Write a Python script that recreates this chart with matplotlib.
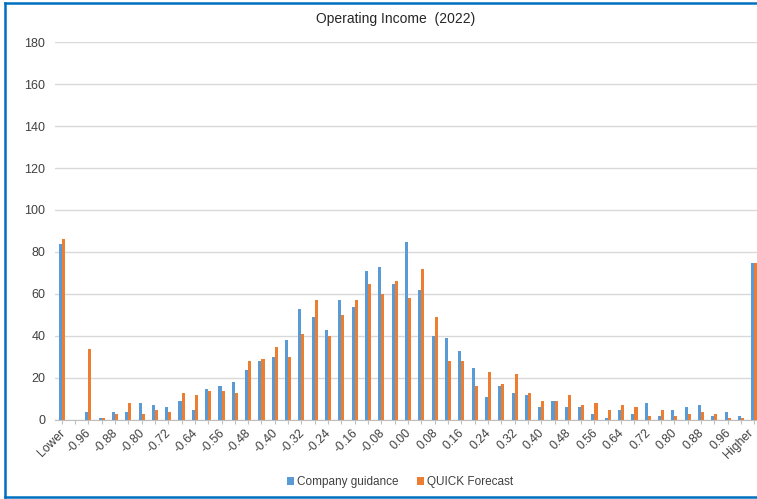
import numpy as np
import matplotlib
matplotlib.use("Agg")
import matplotlib.pyplot as plt
import matplotlib.transforms as mtransforms
from matplotlib.lines import Line2D

plt.rcParams['font.family'] = ['Liberation Sans', 'DejaVu Sans']

# bins: Lower, -1.00 ... 1.00 step 0.04, Higher
bins = ['Lower'] + ['%.2f' % v for v in np.round(np.arange(-1.00, 1.0001, 0.04), 2)] + ['Higher']
company = [84, 0, 4, 1, 4, 4, 8, 7, 6, 9, 5, 15, 16, 18, 24, 28, 30, 38, 53, 49, 43, 57, 54,
           71, 73, 65, 85, 62, 40, 39, 33, 25, 11, 16, 13, 12, 6, 9, 6, 6, 3, 1, 5, 3, 8, 2,
           5, 6, 7, 2, 4, 2, 75]
quick = [86, 0, 34, 1, 3, 8, 3, 5, 4, 13, 12, 14, 14, 13, 28, 29, 35, 30, 41, 57, 40, 50, 57,
         65, 60, 66, 58, 72, 49, 28, 28, 16, 23, 17, 22, 13, 9, 9, 12, 7, 8, 5, 7, 6, 2, 5,
         2, 3, 4, 3, 1, 1, 75]
labels = [b if i % 2 == 0 else '' for i, b in enumerate(bins)]

W, H = 757, 499
fig = plt.figure(figsize=(W / 100, H / 100), dpi=100)
ax = fig.add_axes([55 / W, (H - 420) / H, 706 / W, 378 / H])

x = np.arange(len(bins))
bw = 0.23
ax.bar(x - bw / 2, company, bw, color='#5B9BD5', label='Company guidance', zorder=3)
ax.bar(x + bw / 2, quick, bw, color='#ED7D31', label='QUICK Forecast', zorder=3)

ax.set_xlim(-0.5, len(bins) - 0.5)
ax.set_ylim(0, 180)
ax.set_yticks(range(0, 181, 20))
ax.yaxis.grid(True, color='#D9D9D9', lw=1)
ax.set_axisbelow(True)
for s in ['top', 'right', 'left']:
    ax.spines[s].set_visible(False)
ax.spines['bottom'].set_color('#BFBFBF')
ax.tick_params(axis='y', length=0, labelsize=9, colors='#404040', pad=7)
ax.tick_params(axis='x', length=3, color='#BFBFBF', labelsize=8.8, labelcolor='#404040', pad=2)
ax.set_xticks(x)
ax.set_xticklabels(labels, rotation=45, ha='right', rotation_mode='anchor')
xt = ax.get_xticklabels()
for i, t in enumerate(xt):
    dx = -7 if i == len(xt) - 1 else -3
    t.set_transform(t.get_transform() + mtransforms.ScaledTranslation(dx / 100, 0, fig.dpi_scale_trans))

fig.text(396 / W, 1 - 19 / H, 'Operating Income  (2022)', ha='center', va='center',
         fontsize=10, color='#262626')

handles, labs = ax.get_legend_handles_labels()
fig.legend(handles, labs, loc='center', bbox_to_anchor=(400 / W, 1 - 482 / H), ncol=2,
           frameon=False, fontsize=8.5, handlelength=0.6, handleheight=0.6,
           handletextpad=0.3, columnspacing=1.5, labelcolor='#404040')

# border: left, top, bottom (right side is cut off in the original)
bx0, by0, by1 = 5 / W, (H - 497) / H, (H - 3) / H
for xs, ys in [([bx0, bx0], [by0, by1]), ([bx0, 1], [by1, by1]), ([bx0, 1], [by0, by0])]:
    fig.add_artist(Line2D(xs, ys, transform=fig.transFigure, color='#0070C0', lw=1.8))

fig.savefig('out.png', dpi=100)
